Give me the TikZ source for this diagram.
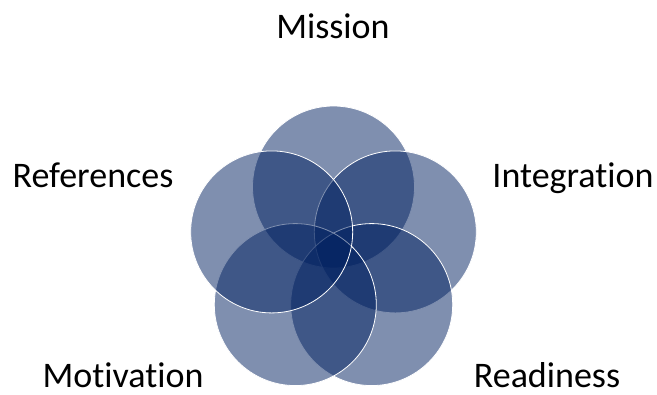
\documentclass[tikz,border=0pt]{standalone}
\usepackage{fontspec}
\setmainfont{Carlito}[Ligatures=NoCommon]
\usepackage{xcolor}
\usetikzlibrary{positioning}
\definecolor{navy}{HTML}{002060}
\tikzset{
  petal/.style={circle, minimum size=121.5pt, inner sep=0pt, fill=navy, fill opacity=0.5, draw=white, line width=0.6pt},
  tag/.style={anchor=base, inner sep=0pt, font=\fontsize{27}{32}\selectfont}
}

\begin{document}
\begin{tikzpicture}[x=0.75pt,y=0.75pt]
\useasboundingbox (0,0) rectangle (657,394);
% Five overlapping circles
\coordinate (hub) at (333.5,142);
\node[petal] (mission) at ([shift={(90:65)}]hub) {};
\node[petal] (integration) at ([shift={(18:65)}]hub) {};
\node[petal] (readiness) at ([shift={(-54:65)}]hub) {};
\node[petal] (motivation) at ([shift={(-126:65)}]hub) {};
\node[petal] (references) at ([shift={(162:65)}]hub) {};

% Labels
\node[tag] (missiontxt) at (333,356) {Mission};
\node[tag] (integrationtxt) at (573,207) {Integration};
\node[tag] (referencestxt) at (93,207) {References};
\node[tag] (motivationtxt) at (123,7) {Motivation};
\node[tag] (readinesstxt) at (547,7) {Readiness};
\end{tikzpicture}
\end{document}
